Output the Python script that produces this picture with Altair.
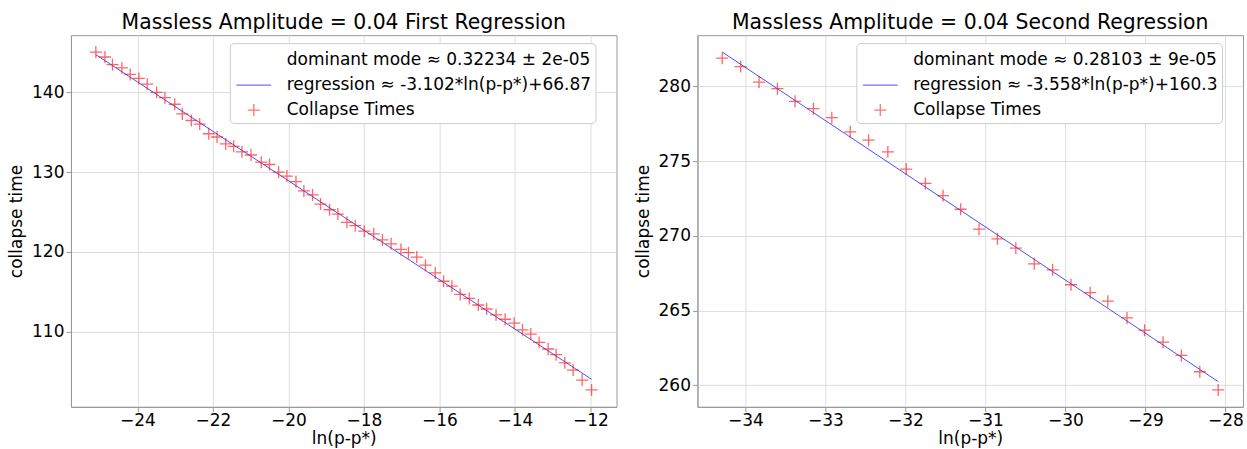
import altair as alt
import pandas as pd

FONT = "DejaVu Sans"

# ---- data ----
left_x = [-25.10, -24.86, -24.66, -24.41, -24.19, -23.96, -23.74, -23.49, -23.27, -23.01,
          -22.81, -22.57, -22.35, -22.11, -21.89, -21.66, -21.45, -21.23, -20.99, -20.72,
          -20.50, -20.26, -20.04, -19.80, -19.59, -19.36, -19.15, -18.91, -18.69, -18.45,
          -18.23, -17.99, -17.74, -17.51, -17.28, -17.02, -16.82, -16.60, -16.37, -16.11,
          -15.89, -15.67, -15.45, -15.21, -14.97, -14.75, -14.50, -14.26, -14.02, -13.80,
          -13.58, -13.36, -13.12, -12.91, -12.68, -12.46, -12.22, -11.97]
left_y = [145.06, 144.44, 143.49, 143.07, 142.25, 141.75, 141.04, 140.00, 139.33, 138.51,
          137.30, 136.47, 136.02, 134.81, 134.40, 133.53, 133.23, 132.54, 132.14, 131.24,
          130.95, 130.00, 129.50, 128.80, 127.63, 127.13, 125.98, 125.27, 124.73, 123.70,
          123.27, 122.58, 122.24, 121.49, 121.00, 120.29, 119.88, 119.34, 118.32, 117.35,
          116.30, 115.68, 114.65, 114.15, 113.32, 112.82, 112.07, 111.53, 111.04, 110.20,
          109.67, 108.63, 107.80, 107.09, 106.06, 105.15, 103.90, 102.66]
left_reg_x = [-25.10, -11.97]
left_reg_y = [144.73, 104.00]

right_x = [-34.29, -34.06, -33.83, -33.60, -33.38, -33.15, -32.92, -32.69, -32.46, -32.22,
           -31.99, -31.75, -31.53, -31.31, -31.08, -30.85, -30.62, -30.39, -30.16, -29.93,
           -29.69, -29.47, -29.23, -29.01, -28.78, -28.55, -28.32, -28.09]
right_y = [281.89, 281.33, 280.29, 279.85, 279.00, 278.51, 277.91, 276.96, 276.40, 275.62,
           274.47, 273.51, 272.69, 271.78, 270.45, 269.80, 269.18, 268.13, 267.73, 266.73,
           266.20, 265.63, 264.51, 263.69, 262.89, 262.00, 260.91, 259.69]
right_reg_x = [-34.29, -28.09]
right_reg_y = [282.30, 260.25]

left_labels = ["dominant mode \u2248 0.32234 \u00b1 2e-05",
               "regression \u2248 -3.102*ln(p-p*)+66.87",
               "Collapse Times"]
right_labels = ["dominant mode \u2248 0.28103 \u00b1 9e-05",
                "regression \u2248 -3.558*ln(p-p*)+160.3",
                "Collapse Times"]

left_title = "Massless Amplitude = 0.04 First Regression"
right_title = "Massless Amplitude = 0.04 Second Regression"

left_xticks = [-24, -22, -20, -18, -16, -14, -12]
left_yticks = [110, 120, 130, 140]
right_xticks = [-34, -33, -32, -31, -30, -29, -28]
right_yticks = [260, 265, 270, 275, 280]

left_xdom = [-25.76, -11.31]
left_ydom = [100.54, 147.18]
right_xdom = [-34.60, -27.78]
right_ydom = [258.56, 283.43]

NONE_PATH = "M0,0"
LINE_PATH = "M-1.45,0L1.45,0"
PLUS_PATH = "M-0.5,0L0.5,0M0,-0.5L0,0.5"


def panel(xs, ys, rx, ry, labels, title, xticks, yticks, xdom, ydom):
    pts = pd.DataFrame({"x": xs, "y": ys, "series": labels[2]})
    reg = pd.DataFrame({"x": rx, "y": ry})
    xenc = alt.X("x:Q", scale=alt.Scale(domain=xdom, nice=False, zero=False),
                 axis=alt.Axis(values=xticks, title="ln(p-p*)", format="d"))
    yenc = alt.Y("y:Q", scale=alt.Scale(domain=ydom, nice=False, zero=False),
                 axis=alt.Axis(values=yticks, title="collapse time", format="d"))
    leg = alt.Legend(title=None, orient="none", legendX=159, legendY=8,
                     symbolSize=576, symbolStrokeWidth=1.3, symbolOffset=7,
                     labelOffset=20, padding=4, rowPadding=4,
                     fillColor="white", strokeColor="#cccccc", cornerRadius=4,
                     labelFont=FONT, labelFontSize=17, labelColor="black",
                     labelLimit=600, symbolOpacity=0.55)
    line = alt.Chart(reg).mark_line(color="blue", strokeWidth=1, opacity=0.7).encode(
        x=xenc, y=yenc)
    points = alt.Chart(pts).mark_point(filled=False, size=576, strokeWidth=1.3,
                                       opacity=0.6).encode(
        x=xenc, y=yenc,
        color=alt.Color("series:N", scale=alt.Scale(domain=labels,
                        range=["rgba(0,0,0,0)", "blue", "red"]), legend=leg),
        shape=alt.Shape("series:N", scale=alt.Scale(domain=labels,
                        range=[NONE_PATH, LINE_PATH, PLUS_PATH]), legend=leg),
    )
    return alt.layer(line, points).properties(
        width=546, height=372,
        title=alt.TitleParams(title, font=FONT, fontSize=20.4, fontWeight="normal",
                              color="black", anchor="middle", offset=2),
    )


left = panel(left_x, left_y, left_reg_x, left_reg_y, left_labels, left_title,
             left_xticks, left_yticks, left_xdom, left_ydom)
right = panel(right_x, right_y, right_reg_x, right_reg_y, right_labels, right_title,
              right_xticks, right_yticks, right_xdom, right_ydom)

chart = alt.hconcat(left, right, spacing=16).resolve_scale(
    color="independent", shape="independent"
).resolve_legend(color="independent", shape="independent").properties(
    padding={"left": 7, "top": 12, "right": 3, "bottom": 0}
).configure(font=FONT).configure_view(
    stroke="#999999", strokeWidth=1
).configure_axis(
    labelFont=FONT, titleFont=FONT, labelFontSize=17, titleFontSize=17,
    labelColor="black", titleColor="black", titleFontWeight="normal",
    gridColor="#dddddd", gridWidth=1, domainColor="#999999", tickColor="#999999",
    tickSize=5, labelPadding=2,
).configure_axisY(titlePadding=6).configure_axisX(titlePadding=2, labelPadding=1)

chart.save("out.html", embed_options={"renderer": "svg", "actions": False})
